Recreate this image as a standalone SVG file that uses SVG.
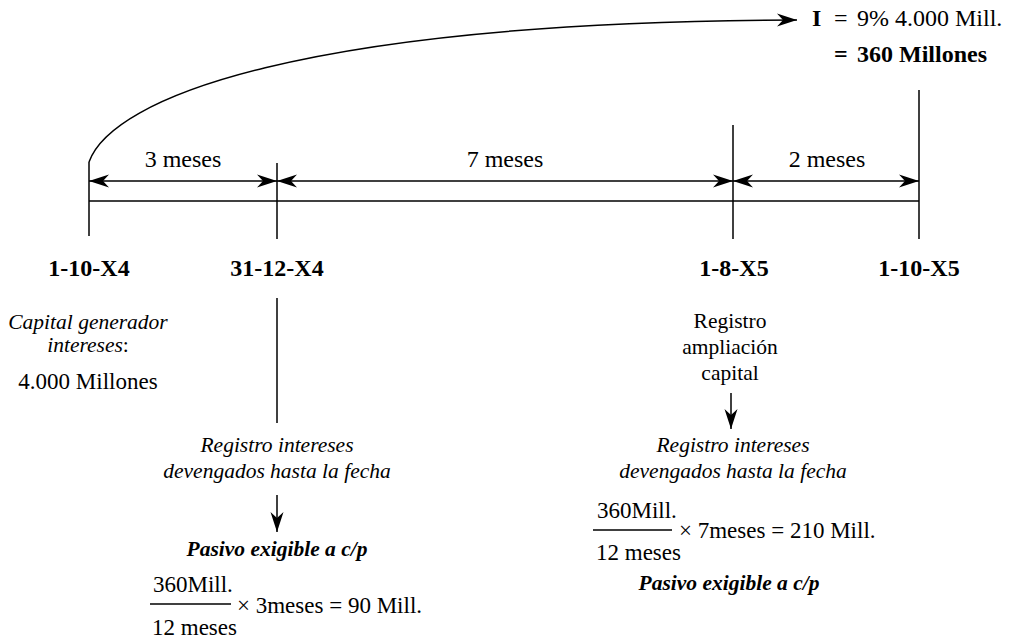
<svg xmlns="http://www.w3.org/2000/svg" width="1010" height="639" viewBox="0 0 1010 639">
<defs>
<style>
text{font-family:"Liberation Serif","DejaVu Serif","Noto Serif",serif;fill:#000}
.r{font-size:23px}
.r24{font-size:24px}
.m{font-size:21.5px}
.b{font-size:24px;font-weight:bold}
.i{font-size:21.5px;font-style:italic}
.bi{font-size:21.5px;font-style:italic;font-weight:bold}
.c{text-anchor:middle}
.ln{stroke:#000;stroke-width:1.5;fill:none}
</style>
<marker id="ah" viewBox="-22 -8 24 16" refX="0" refY="0" markerWidth="24" markerHeight="16" markerUnits="userSpaceOnUse" orient="auto-start-reverse">
<path d="M0,0 L-20,-6.5 L-14,0 L-20,6.5 Z" fill="#000"/>
</marker>
</defs>
<rect width="1010" height="639" fill="#fff"/>

<g id="connectors">
<path class="ln" d="M89,162 C112,98 300,22 797,20" marker-end="url(#ah)"/>
<line class="ln" x1="89" y1="162" x2="89" y2="236"/>
<line class="ln" x1="277" y1="163" x2="277" y2="239"/>
<line class="ln" x1="733" y1="125" x2="733" y2="239"/>
<line class="ln" x1="919" y1="90" x2="919" y2="239"/>
<line class="ln" x1="89" y1="201" x2="919" y2="201"/>
<line class="ln" x1="89" y1="181" x2="277" y2="181" marker-start="url(#ah)" marker-end="url(#ah)"/>
<line class="ln" x1="277" y1="181" x2="733" y2="181" marker-start="url(#ah)" marker-end="url(#ah)"/>
<line class="ln" x1="733" y1="181" x2="919" y2="181" marker-start="url(#ah)" marker-end="url(#ah)"/>
<line class="ln" x1="277" y1="298" x2="277" y2="423"/>
<line class="ln" x1="277" y1="495" x2="277" y2="532" marker-end="url(#ah)"/>
<line class="ln" x1="731" y1="393" x2="731" y2="429" marker-end="url(#ah)"/>
<line class="ln" x1="150" y1="604" x2="231" y2="604"/>
<line class="ln" x1="593" y1="530" x2="672" y2="530"/>
</g>

<g id="interest">
<text class="b" x="812" y="26">I</text>
<text class="r24" x="834" y="26">=</text>
<text class="r24" x="857" y="26">9% 4.000 Mill.</text>
<text class="b" x="834" y="62">=</text>
<text class="b" x="857" y="62">360 Millones</text>
</g>

<g id="periods">
<text class="r24 c" x="183" y="167">3 meses</text>
<text class="r24 c" x="505" y="167">7 meses</text>
<text class="r24 c" x="827" y="167">2 meses</text>
</g>

<g id="dates">
<text class="b c" x="89" y="276">1-10-X4</text>
<text class="b c" x="277" y="276">31-12-X4</text>
<text class="b c" x="734" y="276">1-8-X5</text>
<text class="b c" x="919" y="276">1-10-X5</text>
</g>

<g id="capital">
<text class="i c" x="88" y="329">Capital generador</text>
<text class="i c" x="88" y="352">intereses<tspan font-style="normal">:</tspan></text>
<text class="r c" x="88" y="389">4.000 Millones</text>
</g>

<g id="registro-dic">
<text class="i c" x="277" y="452">Registro intereses</text>
<text class="i c" x="277" y="478">devengados hasta la fecha</text>
<text class="bi c" x="277" y="556">Pasivo exigible a c/p</text>
<text class="r" x="153" y="592">360Mill.</text>
<text class="r" x="237" y="613">× 3meses = 90 Mill.</text>
<text class="r" x="152" y="635">12 meses</text>
</g>

<g id="ampliacion">
<text class="m c" x="730" y="328">Registro</text>
<text class="m c" x="730" y="354">ampliación</text>
<text class="m c" x="730" y="380">capital</text>
</g>

<g id="registro-ago">
<text class="i c" x="733" y="452">Registro intereses</text>
<text class="i c" x="733" y="478">devengados hasta la fecha</text>
<text class="r" x="597" y="518">360Mill.</text>
<text class="r" x="679" y="538">× 7meses = 210 Mill.</text>
<text class="r" x="596" y="560">12 meses</text>
<text class="bi c" x="729" y="590">Pasivo exigible a c/p</text>
</g>
</svg>
